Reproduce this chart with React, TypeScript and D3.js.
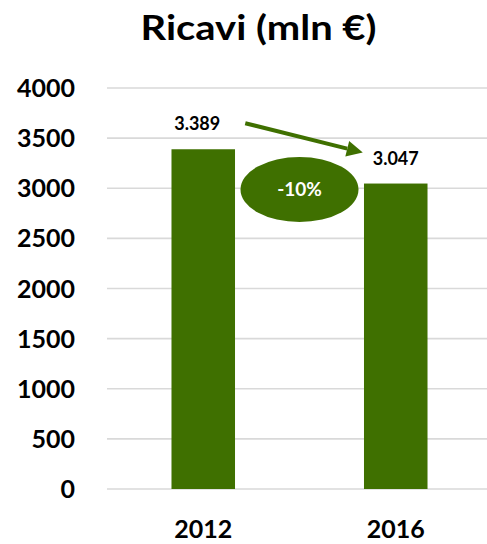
import React from "react";
import * as d3 from "d3";

const categories = ["2012", "2016"];
const values = [3389, 3047];
const valueLabels = ["3.389", "3.047"];
const yTicks = [0, 500, 1000, 1500, 2000, 2500, 3000, 3500, 4000];
const title = "Ricavi (mln €)";
const changeLabel = "-10%";

const W = 487;
const H = 544;
const GREEN = "#3f7000";
const FONT = "Lato, 'Open Sans', sans-serif";

export default function App() {
  const x = d3.scaleBand<string>().domain(categories).range([107, 492]).paddingInner(0.67).paddingOuter(0.335);
  const y = d3.scaleLinear().domain([0, 4000]).range([489, 88]);
  const bw = x.bandwidth();
  const cx = (c: string) => (x(c) as number) + bw / 2;

  const ax1 = cx(categories[0]) + 42;
  const ay1 = y(values[0]) - 26;
  const ax2 = cx(categories[1]) - 33;
  const ay2 = y(values[1]) - 31;
  const ang = Math.atan2(ay2 - ay1, ax2 - ax1);
  const headLen = 16;
  const headW = 8;
  const bx = ax2 - headLen * Math.cos(ang);
  const by = ay2 - headLen * Math.sin(ang);
  const px = -Math.sin(ang);
  const py = Math.cos(ang);

  const ellX = (cx(categories[0]) + cx(categories[1])) / 2;
  const ellY = y(values[1]) + 6;

  return (
    <svg width={W} height={H} style={{ position: "absolute", left: 0, top: 0, background: "#fff" }}>
      <rect width={W} height={H} fill="#fff" />
      <text
        x={258.5}
        y={40}
        textAnchor="middle"
        fontFamily={FONT}
        fontWeight={700}
        fontSize={34}
        fill="#000"
        textLength={236}
        lengthAdjust="spacingAndGlyphs"
      >
        {title}
      </text>
      {yTicks.map((t) => (
        <g key={t}>
          <line x1={107} x2={487} y1={y(t)} y2={y(t)} stroke="#d9d9d9" strokeWidth={1.6} />
          <text x={75} y={y(t)} dy="0.36em" textAnchor="end" fontFamily={FONT} fontWeight={700} fontSize={25} fill="#000">
            {t}
          </text>
        </g>
      ))}
      {categories.map((c, i) => (
        <g key={c}>
          <rect x={x(c)} y={y(values[i])} width={bw} height={y(0) - y(values[i])} fill={GREEN} />
          <text x={cx(c) - (i === 0 ? 6 : 0)} y={y(values[i]) - 19} textAnchor="middle" fontFamily={FONT} fontWeight={700} fontSize={18} fill="#000">
            {valueLabels[i]}
          </text>
          <text x={cx(c)} y={538} textAnchor="middle" fontFamily={FONT} fontWeight={700} fontSize={25} fill="#000">
            {c}
          </text>
        </g>
      ))}
      <line x1={ax1} y1={ay1} x2={bx} y2={by} stroke={GREEN} strokeWidth={4} />
      <polygon
        points={`${ax2},${ay2} ${bx + px * headW},${by + py * headW} ${bx - px * headW},${by - py * headW}`}
        fill={GREEN}
      />
      <ellipse cx={ellX} cy={ellY} rx={59} ry={32.5} fill={GREEN} />
      <text x={ellX} y={ellY} dy="0.36em" textAnchor="middle" fontFamily={FONT} fontWeight={700} fontSize={19} fill="#fff">
        {changeLabel}
      </text>
    </svg>
  );
}
